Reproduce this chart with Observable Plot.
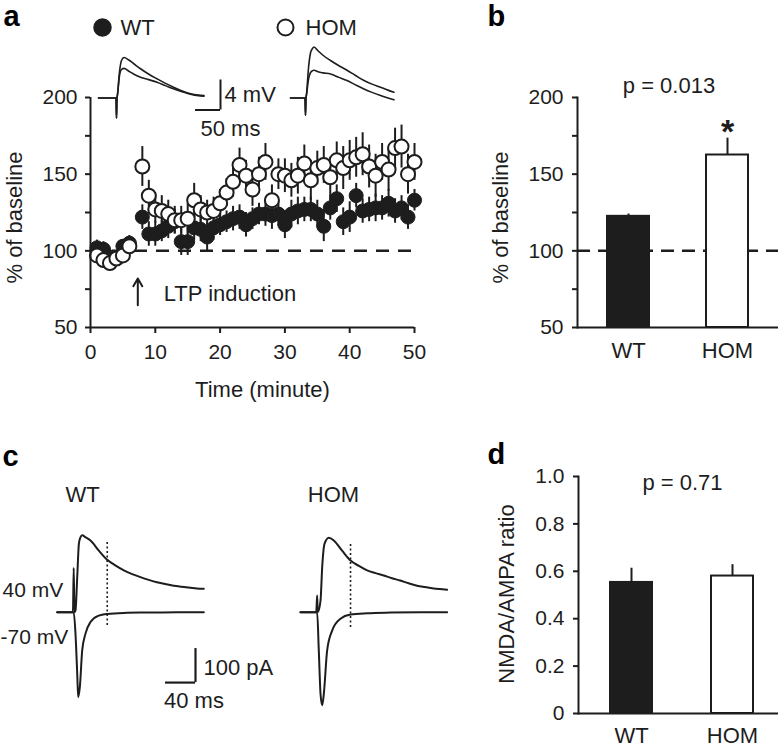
<!DOCTYPE html>
<html><head><meta charset="utf-8">
<script src="https://cdn.jsdelivr.net/npm/d3@7"></script>
<script src="https://cdn.jsdelivr.net/npm/@observablehq/plot@0.6"></script>
<style>
body{margin:0;background:#fff;}
#fig{position:relative;width:783px;height:749px;overflow:hidden;background:#fff;}
</style></head><body><div id="fig"></div>
<script>
// ---------- Panel a: LTP time course ----------
const timeMin = [1,2,3,4,5,6,8,9,10,11,12,13,14,15,16,17,18,19,20,21,22,23,24,25,26,27,28,29,30,31,32,33,34,35,36,37,38,39,40,41,42,43,44,45,46,47,48,49,50];
const wtMean  = [102,101,96,95,103,105,122,111,111,113,116,119,106,106,115,114,109,115,117,119,121,122,117,121,124,124,123,124,117,124,126,127,127,124,116,128,134,119,122,136,126,127,128,128,131,126,128,122,133];
const wtSem   = [5,5,5,5,4,5,8,8,8,7,8,8,9,9,8,8,9,8,7,7,8,8,8,7,7,8,9,8,9,9,9,8,8,9,10,8,9,9,10,8,8,8,9,8,9,8,8,8,7];
const homMean = [97,94,92,95,97,103,155,136,127,126,124,120,120,121,133,127,125,126,131,138,145,156,149,140,150,158,133,150,149,146,149,157,146,154,156,148,159,154,159,161,163,155,149,158,153,167,168,150,158];
const homSem  = [5,5,5,5,5,6,13,10,9,10,9,9,9,10,11,9,8,9,9,9,10,11,10,11,11,12,10,10,11,11,12,12,13,11,12,13,12,14,13,13,14,14,14,12,14,13,14,13,12];
const yTicksA = [50,100,150,200];
const yMinorA = [75,125,175];
const xTicksA = [0,10,20,30,40,50];
const ltpTime = 7.3;

// inset EPSPs (ms, mV)
const epspWtT      = [0,35,36,37,38,42,46,51,60,70,84,100,117,134,150,167,184,200,211];
const epspWtAfter  = [0,0,-2.7,0,0.5,3.5,5.0,5.4,5.1,4.6,3.9,3.2,2.56,1.95,1.44,0.95,0.56,0.38,0.33];
const epspWtBefore = [0,0,-2.7,0,0.4,3.0,3.8,3.95,3.6,3.2,2.77,2.45,2.1,1.65,1.23,0.85,0.5,0.3,0.24];
const epspHomT      = [0,29,30,31,32,36,40,44,47,55,65,80,97,113,130,147,163,180,195,207];
const epspHomAfter  = [0,0,-2.3,0,0.5,4.0,6.0,6.6,6.8,6.3,5.7,5.0,4.3,3.7,3.0,2.33,1.85,1.44,1.05,0.77];
const epspHomBefore = [0,0,-2.3,0,0.4,2.5,3.4,3.65,3.7,3.5,3.35,3.2,2.75,2.33,1.75,1.2,0.75,0.33,0.0,-0.24];
const epspBar = {t: 244, v: -1.6, ms: 50, mv: 4};

// ---------- Panel b ----------
const groups = ["WT","HOM"];
const ltpMean = [122.5, 162.5];
const ltpSem = [1.5, 11];
const ltpSig = ["", "*"];
const ltpP = "0.013";
const yTicksB = [50,100,150,200];
const yMinorB = [75,125,175];

// ---------- Panel c: EPSCs (ms, pA) ----------
const wtPosT = [0,21,22,23,24.4,26.7,28.9,31,33.3,38,44.4,55.5,66.7,78,88.9,100,111,122,133,144,155.5,166,177.7,186,195.5];
const wtPosI = [0,0,130,0,5,103,201,220,226,220,211,181,154,137,123,112,103,95,88,83,78,75,72,70,69];
const wtNegT = [0,22,24.4,26.7,28,30.2,33.3,37.7,44.4,55.5,66.7,88.9,120,160,195.5];
const wtNegI = [0,0,-64,-181,-250,-220,-113,-63,-29,-10,-5,-2,-1,0,0];
const homPosT = [0,21,22.2,23,26.7,28.9,32,37.8,44.4,55.5,66.7,78,88.9,100,111,122,133,144,155.5,166,177.7,186,195.5];
const homPosI = [0,0,49,0,34,132,201,219,211,181,152,136,123,115,108,100,93,85,78,74,70,68,66];
const homNegT = [0,22.2,24.4,26.7,28.9,31.1,35.5,42.2,53.3,66.7,88.9,120,160,195.5];
const homNegI = [0,0,-113,-240,-274,-240,-113,-54,-19,-7,-3,-1,0,0];
const nmdaTime = 66.7;
const wtDotted = [-39, 210];
const homDotted = [-45, 205];
const epscBar = {t: 184.4, i: -207, ms: 40, pa: 100};
const holdLabels = [{label: "40 mV", t: -73, i: 64}, {label: "-70 mV", t: -75.6, i: -74}];

// ---------- Panel d ----------
const ratioMean = [0.553, 0.58];
const ratioSem = [0.06, 0.048];
const ratioTicks = [0,0.2,0.4,0.6,0.8,1.0];
const ratioP = "0.71";

// ================= drawing =================
const INK = "#1d1d1d";
const FONT = "'Liberation Sans', Arial, Helvetica, sans-serif";
const STYLE = `font-family:${FONT};font-size:21px;color:${INK};background:transparent;overflow:visible;`;
const fig = document.getElementById("fig");
function place(el, left, top) {
  el.style.position = "absolute";
  el.style.left = left + "px";
  el.style.top = top + "px";
  el.style.maxWidth = "none";
  fig.appendChild(el);
}
const zip = (t, v) => t.map((ti, i) => ({t: ti, v: v[i]}));
function traceFrame(width, height, x0, y0, xUnit, yUnit) {
  return {
    width, height, marginTop: 0, marginRight: 0, marginBottom: 0, marginLeft: 0,
    x: {axis: null, domain: [-x0 / xUnit, (width - x0) / xUnit]},
    y: {axis: null, domain: [-(height - y0) / yUnit, y0 / yUnit]},
    style: STYLE
  };
}

// ---- Panel a main
const rowsA = timeMin.map((t, i) => ({t, wt: wtMean[i], wtSem: wtSem[i], hom: homMean[i], homSem: homSem[i]}));
const plotA = Plot.plot({
  width: 420, height: 380,
  marginLeft: 90, marginRight: 6, marginTop: 97, marginBottom: 53,
  style: STYLE,
  x: {domain: [0, 50]},
  y: {domain: [50, 200]},
  marks: [
    Plot.ruleY([100], {stroke: INK, strokeWidth: 2.5, strokeDasharray: "13,9"}),
    Plot.ruleX(rowsA, {x: "t", y1: d => d.wt - d.wtSem, y2: d => d.wt + d.wtSem, stroke: INK, strokeWidth: 2}),
    Plot.dot(rowsA, {x: "t", y: "wt", r: 7, fill: INK, stroke: INK, strokeWidth: 1}),
    Plot.ruleX(rowsA, {x: "t", y1: d => d.hom - d.homSem, y2: d => d.hom + d.homSem, stroke: INK, strokeWidth: 2}),
    Plot.dot(rowsA, {x: "t", y: "hom", r: 7, fill: "white", stroke: INK, strokeWidth: 2}),
    Plot.ruleX([0], {stroke: INK, strokeWidth: 2}),
    Plot.ruleY([50], {stroke: INK, strokeWidth: 2}),
    Plot.axisY({ticks: yTicksA, tickSize: 5, tickPadding: 8, strokeWidth: 2, fontSize: 21, label: null}),
    Plot.axisY({ticks: yMinorA, tickSize: 5, tickFormat: () => "", strokeWidth: 2, label: null}),
    Plot.axisX({ticks: xTicksA, tickSize: 6, tickPadding: 11, strokeWidth: 2, fontSize: 21, label: null}),
    Plot.arrow([ltpTime], {x1: d => d, x2: d => d, y1: 64.5, y2: 82, stroke: INK, strokeWidth: 2, headLength: 9}),
    Plot.text(["LTP induction"], {x: ltpTime + 4, y: 72, textAnchor: "start", fontSize: 22, fill: INK}),
    Plot.text(["Time (minute)"], {frameAnchor: "bottom", lineAnchor: "middle", dx: 10, dy: 62, fontSize: 22, fill: INK}),
    Plot.text(["% of baseline"], {frameAnchor: "left", textAnchor: "middle", lineAnchor: "middle", rotate: -90, dx: -76, dy: 5, fontSize: 22, fill: INK}),
    Plot.text(["a"], {frameAnchor: "top-left", dx: -87, dy: -72, lineAnchor: "bottom", textAnchor: "start", fontSize: 29, fontWeight: "bold", fill: "#000"}),
    Plot.dot([groups[0]], {frameAnchor: "top-left", dx: 12, dy: -70, r: 8.5, fill: INK, stroke: INK}),
    Plot.text([groups[0]], {frameAnchor: "top-left", lineAnchor: "middle", dx: 30, dy: -70, textAnchor: "start", fontSize: 22, fill: INK}),
    Plot.dot([groups[1]], {frameAnchor: "top-left", dx: 195, dy: -70, r: 8, fill: "white", stroke: INK, strokeWidth: 2}),
    Plot.text([groups[1]], {frameAnchor: "top-left", lineAnchor: "middle", dx: 215, dy: -70, textAnchor: "start", fontSize: 22, fill: INK})
  ]
});
place(plotA, 0, 0);

// ---- Panel a insets
const insetWT = Plot.plot({
  ...traceFrame(200, 110, 8, 67.5, 0.5, 7.5),
  marks: [
    Plot.line(zip(epspWtT, epspWtBefore), {x: "t", y: "v", stroke: INK, strokeWidth: 1.6, curve: "monotone-x"}),
    Plot.line(zip(epspWtT, epspWtAfter), {x: "t", y: "v", stroke: INK, strokeWidth: 1.6, curve: "monotone-x"}),
    Plot.ruleX([epspBar], {x: "t", y1: "v", y2: d => d.v + d.mv, stroke: INK, strokeWidth: 2}),
    Plot.ruleY([epspBar], {y: "v", x1: d => d.t - d.ms, x2: "t", stroke: INK, strokeWidth: 2}),
    Plot.text([epspBar], {x: d => d.t + 8, y: d => d.v + d.mv / 2, text: d => `${d.mv} mV`, textAnchor: "start", fontSize: 22, fill: INK}),
    Plot.text([epspBar], {x: d => d.t - d.ms + 10, y: "v", dy: 18.5, text: d => `${d.ms} ms`, textAnchor: "start", fontSize: 22, fill: INK})
  ]
});
place(insetWT, 90, 30);
const insetHOM = Plot.plot({
  ...traceFrame(130, 110, 10, 67.5, 0.5, 7.5),
  marks: [
    Plot.line(zip(epspHomT, epspHomBefore), {x: "t", y: "v", stroke: INK, strokeWidth: 1.6, curve: "monotone-x"}),
    Plot.line(zip(epspHomT, epspHomAfter), {x: "t", y: "v", stroke: INK, strokeWidth: 1.6, curve: "monotone-x"})
  ]
});
place(insetHOM, 280, 30);

// ---- Panel b
const barsB = groups.map((g, i) => ({g, mean: ltpMean[i], sem: ltpSem[i], sig: ltpSig[i]}));
const plotB = Plot.plot({
  width: 363, height: 380,
  marginLeft: 157, marginRight: 5, marginTop: 97, marginBottom: 53,
  style: STYLE,
  x: {domain: groups, paddingInner: 0.576, paddingOuter: 0.303, align: 0.508},
  y: {domain: [50, 200]},
  color: {domain: groups, range: [INK, "#ffffff"]},
  marks: [
    Plot.ruleY([100], {stroke: INK, strokeWidth: 2.5, strokeDasharray: "13,8"}),
    Plot.ruleX(barsB, {x: "g", y1: "mean", y2: d => d.mean + d.sem, stroke: INK, strokeWidth: 2}),
    Plot.barY(barsB, {x: "g", y1: 50, y2: "mean", fill: "g", stroke: INK, strokeWidth: 2}),
    Plot.ruleY([50], {stroke: INK, strokeWidth: 2}),
    Plot.frame({anchor: "left", stroke: INK, strokeWidth: 2}),
    Plot.axisY({ticks: yTicksB, tickSize: 5, tickPadding: 9, strokeWidth: 2, fontSize: 21, label: null}),
    Plot.axisY({ticks: yMinorB, tickSize: 5, tickFormat: () => "", strokeWidth: 2, label: null}),
    Plot.axisX({tickSize: 0, tickPadding: 15, fontSize: 22, label: null}),
    Plot.text(barsB, {x: "g", y: d => d.mean + d.sem, text: "sig", dy: -6, fontSize: 34, fontWeight: "bold", fill: INK}),
    Plot.text([ltpP], {frameAnchor: "top", lineAnchor: "middle", dx: -9, dy: -12, text: d => `p = ${d}`, fontSize: 22, fill: INK}),
    Plot.text(["% of baseline"], {frameAnchor: "left", textAnchor: "middle", lineAnchor: "middle", rotate: -90, dx: -77, dy: 5, fontSize: 22, fill: INK}),
    Plot.text(["b"], {frameAnchor: "top-left", dx: -90, dy: -72, lineAnchor: "bottom", textAnchor: "start", fontSize: 29, fontWeight: "bold", fill: "#000"})
  ]
});
place(plotB, 420, 0);

// ---- Panel c
const cWT = Plot.plot({
  ...traceFrame(290, 290, 56.7, 181.7, 0.75, 0.34),
  marks: [
    Plot.line(zip(wtNegT, wtNegI), {x: "t", y: "v", stroke: INK, strokeWidth: 2, curve: "monotone-x"}),
    Plot.line(zip(wtPosT, wtPosI), {x: "t", y: "v", stroke: INK, strokeWidth: 2, curve: "monotone-x"}),
    Plot.ruleX([nmdaTime], {y1: wtDotted[0], y2: wtDotted[1], stroke: INK, strokeWidth: 1.6, strokeDasharray: "2,2.5"}),
    Plot.ruleX([epscBar], {x: "t", y1: "i", y2: d => d.i + d.pa, stroke: INK, strokeWidth: 2.2}),
    Plot.ruleY([epscBar], {y: "i", x1: d => d.t - d.ms, x2: "t", stroke: INK, strokeWidth: 2.2}),
    Plot.text([epscBar], {x: d => d.t + 10.7, y: d => d.i + d.pa / 2, dy: 2, text: d => `${d.pa} pA`, textAnchor: "start", fontSize: 22, fill: INK}),
    Plot.text([epscBar], {x: d => d.t - d.ms - 2, y: "i", dy: 18, text: d => `${d.ms} ms`, textAnchor: "start", fontSize: 22, fill: INK}),
    Plot.text(holdLabels, {x: "t", y: "i", text: "label", textAnchor: "start", fontSize: 21, fill: INK}),
    Plot.text([groups[0]], {x: 33.7, y: 345, fontSize: 22, fill: INK}),
    Plot.text(["c"], {frameAnchor: "top-left", dx: 2, dy: 35, lineAnchor: "bottom", textAnchor: "start", fontSize: 29, fontWeight: "bold", fill: "#000"})
  ]
});
place(cWT, 0, 430);
const cHOM = Plot.plot({
  ...traceFrame(170, 290, 10, 181.7, 0.75, 0.34),
  marks: [
    Plot.line(zip(homNegT, homNegI), {x: "t", y: "v", stroke: INK, strokeWidth: 2, curve: "monotone-x"}),
    Plot.line(zip(homPosT, homPosI), {x: "t", y: "v", stroke: INK, strokeWidth: 2, curve: "monotone-x"}),
    Plot.ruleX([nmdaTime], {y1: homDotted[0], y2: homDotted[1], stroke: INK, strokeWidth: 1.6, strokeDasharray: "2,2.5"}),
    Plot.text([groups[1]], {x: 44, y: 345, fontSize: 22, fill: INK})
  ]
});
place(cHOM, 290, 430);

// ---- Panel d
const barsD = groups.map((g, i) => ({g, mean: ratioMean[i], sem: ratioSem[i]}));
const plotD = Plot.plot({
  width: 363, height: 369,
  marginLeft: 158, marginRight: 5, marginTop: 96, marginBottom: 36,
  style: STYLE,
  x: {domain: groups, paddingInner: 0.588, paddingOuter: 0.2745, align: 0.5625},
  y: {domain: [0, 1]},
  color: {domain: groups, range: [INK, "#ffffff"]},
  marks: [
    Plot.ruleX(barsD, {x: "g", y1: "mean", y2: d => d.mean + d.sem, stroke: INK, strokeWidth: 2}),
    Plot.barY(barsD, {x: "g", y1: 0, y2: "mean", fill: "g", stroke: INK, strokeWidth: 2}),
    Plot.ruleY([0], {stroke: INK, strokeWidth: 2}),
    Plot.frame({anchor: "left", stroke: INK, strokeWidth: 2}),
    Plot.axisY({ticks: ratioTicks, tickSize: 5, tickPadding: 9, strokeWidth: 2, fontSize: 21, label: null, tickFormat: d => d === 0 ? "0" : d.toFixed(1)}),
    Plot.axisX({tickSize: 0, tickPadding: 14, fontSize: 22, label: null}),
    Plot.text([ratioP], {frameAnchor: "top", lineAnchor: "middle", dx: 4, dy: 6, text: d => `p = ${d}`, fontSize: 22, fill: INK}),
    Plot.text(["NMDA/AMPA ratio"], {frameAnchor: "left", textAnchor: "middle", lineAnchor: "middle", rotate: -90, dx: -72, dy: -1, fontSize: 22, fill: INK}),
    Plot.text(["d"], {frameAnchor: "top-left", dx: -91, dy: -13, lineAnchor: "bottom", textAnchor: "start", fontSize: 29, fontWeight: "bold", fill: "#000"})
  ]
});
place(plotD, 420, 380);
</script></body></html>
